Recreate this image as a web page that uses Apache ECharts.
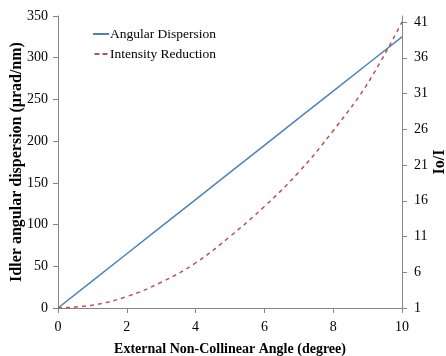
<!DOCTYPE html>
<html><head><meta charset="utf-8">
<style>html,body{margin:0;padding:0;background:#fff}#c{width:446px;height:356px}</style>
<script src="https://cdn.jsdelivr.net/npm/echarts@6/dist/echarts.min.js"></script>
</head><body><div id="c"></div>
<script>
const angles = [0,1,2,3,4,5,6,7,8,9,10];
const dispersion = [0,32.5,65,97.5,130,162.5,195,227.5,260,292.5,325];
const intensity = [1,1.4,2.6,4.6,7.3,11,15.2,20,25.8,32.4,41];
const leftTicks = {min:0,max:350,interval:50};
const rightTicks = {min:1,max:41.84,interval:5};
const xTicks = {min:0,max:10,interval:2};

const font = '"Liberation Serif", "DejaVu Serif", serif';
const axisColor = '#868686';
const chart = echarts.init(document.getElementById('c'), null, {renderer:'canvas'});
chart.setOption({
  animation:false,
  textStyle:{fontFamily:font},
  grid:{left:58,right:44,top:16,bottom:48,containLabel:false,outerBoundsMode:'none'},
  legend:{
    left:88, top:22, orient:'vertical', itemGap:6, itemWidth:16, itemHeight:2,
    textStyle:{fontFamily:font,fontSize:13.5,color:'#000',padding:[0,0,0,-4]},
    data:[
      {name:'Angular Dispersion', icon:'rect', itemStyle:{color:'#4F81BD'}},
      {name:'Intensity Reduction', icon:'path://M0,0H5V2H0ZM8,0H13V2H8Z', itemStyle:{color:'#C0504D'}}
    ]
  },
  xAxis:{
    type:'value', min:xTicks.min, max:xTicks.max, interval:xTicks.interval,
    name:'External Non-Collinear Angle (degree)', nameLocation:'middle', nameGap:34, nameMoveOverlap:false,
    nameTextStyle:{fontFamily:font,fontWeight:'bold',fontSize:14,color:'#000'},
    axisLine:{lineStyle:{color:axisColor,width:1}},
    axisTick:{show:true,length:5,lineStyle:{color:axisColor}},
    axisLabel:{fontFamily:font,fontSize:14,color:'#000',margin:12},
    splitLine:{show:false}
  },
  yAxis:[{
    type:'value', min:leftTicks.min, max:leftTicks.max, interval:leftTicks.interval,
    name:'Idler angular dispersion (\u03bcrad/nm)', nameLocation:'middle', nameGap:33, nameMoveOverlap:false,
    nameTextStyle:{fontFamily:font,fontWeight:'bold',fontSize:16,color:'#000'},
    axisLine:{show:true,lineStyle:{color:axisColor,width:1}},
    axisTick:{show:true,length:5,lineStyle:{color:axisColor}},
    axisLabel:{fontFamily:font,fontSize:14,color:'#000',margin:10},
    splitLine:{show:false}
  },{
    type:'value', position:'right', min:rightTicks.min, max:rightTicks.max, interval:rightTicks.interval,
    name:'Io/I', nameLocation:'middle', nameGap:30, nameRotate:90, nameMoveOverlap:false,
    nameTextStyle:{fontFamily:font,fontWeight:'bold',fontSize:16,color:'#000'},
    axisLine:{show:true,lineStyle:{color:axisColor,width:1}},
    axisTick:{show:true,length:5,lineStyle:{color:axisColor}},
    axisLabel:{fontFamily:font,fontSize:14,color:'#000',margin:12,showMaxLabel:false,
      formatter:function(v){return Number.isInteger(v)?String(v):'';}},
    splitLine:{show:false}
  }],
  series:[{
    name:'Angular Dispersion', type:'line', yAxisIndex:0, showSymbol:false,
    lineStyle:{color:'#4F81BD',width:1.5}, itemStyle:{color:'#4F81BD'},
    data:angles.map((a,i)=>[a,dispersion[i]])
  },{
    name:'Intensity Reduction', type:'line', yAxisIndex:1, showSymbol:false, smooth:0.4,
    lineStyle:{color:'#C0504D',width:1.5,type:[4,4]}, itemStyle:{color:'#C0504D'},
    data:angles.map((a,i)=>[a,intensity[i]])
  }]
});
</script></body></html>
